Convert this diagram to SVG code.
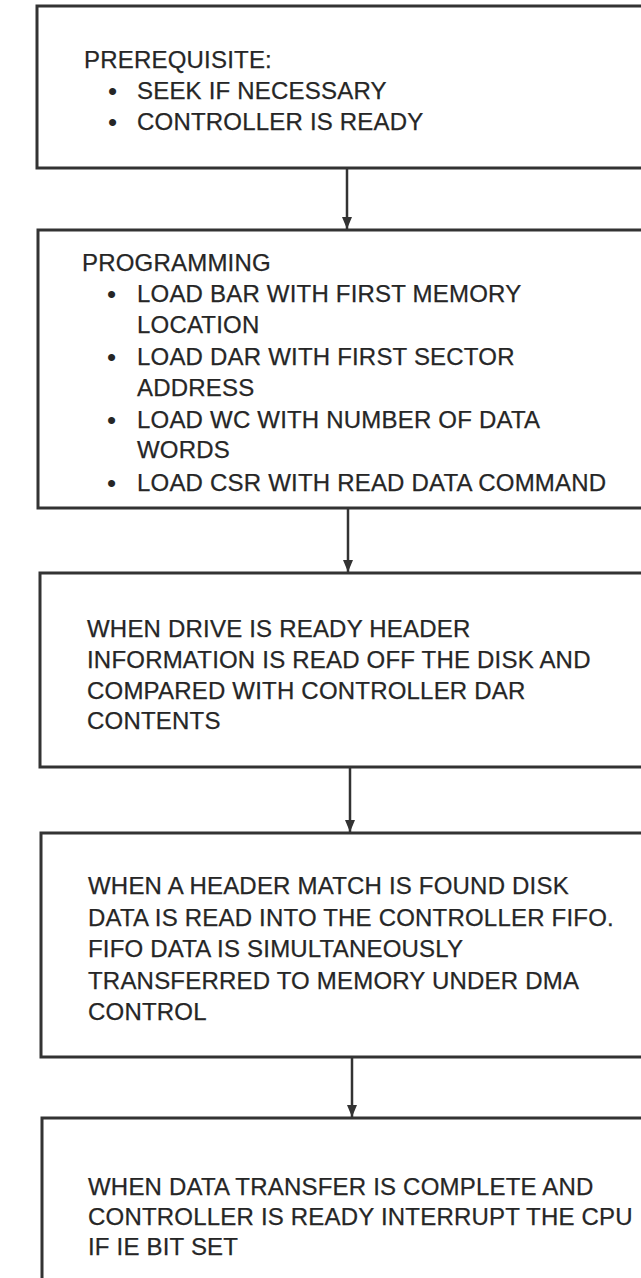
<svg xmlns="http://www.w3.org/2000/svg" width="641" height="1278" viewBox="0 0 641 1278">
<style>
.box{fill:none;stroke:#333;stroke-width:3}
.t{font-family:"Liberation Sans",Arial,Helvetica,sans-serif;font-size:24px;letter-spacing:0.2px;fill:#262626;stroke:#262626;stroke-width:0.25}
.b{font-family:"Liberation Sans",Arial,Helvetica,sans-serif;font-size:26px;fill:#262626}
.c{stroke:#333;stroke-width:2.5;fill:none}
</style>
<defs>
<marker id="arrow" markerWidth="12" markerHeight="10" refX="12" refY="5" orient="auto" markerUnits="userSpaceOnUse" viewBox="0 0 12 10">
<path d="M0,0 L12,5 L0,10 Z" fill="#333"/>
</marker>
</defs>
<rect x="0" y="0" width="641" height="1278" fill="#fff"/>
<g id="connectors">
<line class="c" x1="347" y1="168" x2="347" y2="229" marker-end="url(#arrow)"/>
<line class="c" x1="348" y1="508" x2="348" y2="572" marker-end="url(#arrow)"/>
<line class="c" x1="350" y1="767" x2="350" y2="832" marker-end="url(#arrow)"/>
<line class="c" x1="352" y1="1057" x2="352" y2="1117" marker-end="url(#arrow)"/>
</g>
<g id="node1">
<rect class="box" x="37" y="6" width="640" height="162"/>
<text class="t" x="84" y="68">PREREQUISITE:</text>
<text class="b" x="108" y="100">•</text><text class="t" x="137" y="99">SEEK IF NECESSARY</text>
<text class="b" x="108" y="131">•</text><text class="t" x="137" y="130">CONTROLLER IS READY</text>
</g>
<g id="node2">
<rect class="box" x="38" y="230" width="640" height="278"/>
<text class="t" x="82" y="271">PROGRAMMING</text>
<text class="b" x="107" y="303">•</text><text class="t" x="137" y="302">LOAD BAR WITH FIRST MEMORY</text>
<text class="t" x="137" y="333">LOCATION</text>
<text class="b" x="107" y="366">•</text><text class="t" x="137" y="365">LOAD DAR WITH FIRST SECTOR</text>
<text class="t" x="137" y="396">ADDRESS</text>
<text class="b" x="107" y="429">•</text><text class="t" x="137" y="428">LOAD WC WITH NUMBER OF DATA</text>
<text class="t" x="137" y="458">WORDS</text>
<text class="b" x="107" y="492">•</text><text class="t" x="137" y="491">LOAD CSR WITH READ DATA COMMAND</text>
</g>
<g id="node3">
<rect class="box" x="40" y="573" width="640" height="194"/>
<text class="t" x="87" y="637">WHEN DRIVE IS READY HEADER</text>
<text class="t" x="87" y="668">INFORMATION IS READ OFF THE DISK AND</text>
<text class="t" x="87" y="699">COMPARED WITH CONTROLLER DAR</text>
<text class="t" x="87" y="729">CONTENTS</text>
</g>
<g id="node4">
<rect class="box" x="41" y="833" width="640" height="224"/>
<text class="t" x="88" y="894">WHEN A HEADER MATCH IS FOUND DISK</text>
<text class="t" x="88" y="926">DATA IS READ INTO THE CONTROLLER FIFO.</text>
<text class="t" x="88" y="957">FIFO DATA IS SIMULTANEOUSLY</text>
<text class="t" x="88" y="989">TRANSFERRED TO MEMORY UNDER DMA</text>
<text class="t" x="88" y="1020">CONTROL</text>
</g>
<g id="node5">
<path class="box" d="M42,1290 L42,1118 L680,1118"/>
<text class="t" x="88" y="1195">WHEN DATA TRANSFER IS COMPLETE AND</text>
<text class="t" x="88" y="1225">CONTROLLER IS READY INTERRUPT THE CPU</text>
<text class="t" x="88" y="1255">IF IE BIT SET</text>
</g>
</svg>
